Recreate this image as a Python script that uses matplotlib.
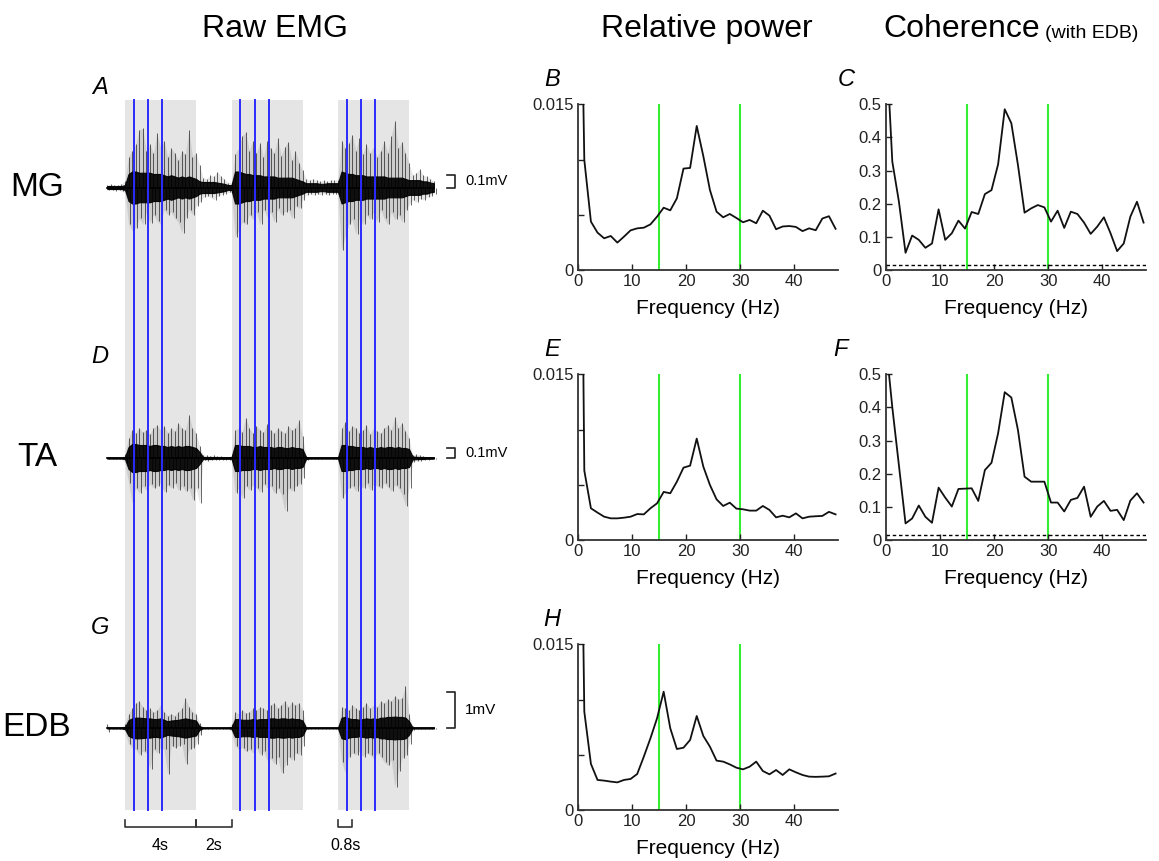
import numpy as np
import matplotlib
matplotlib.use('Agg')
import matplotlib.pyplot as plt

plt.rcParams['font.family'] = ['Liberation Sans', 'DejaVu Sans']

W, H = 1159, 861

# ---------------- spectra (relative power and coherence with EDB) ----------------
df = 1.2207
freq = np.arange(40) * df

pow_mg = [0.046, 0.00996, 0.00438, 0.00338, 0.00287, 0.00308, 0.00248, 0.00302, 0.00359, 0.00377,
          0.00383, 0.00413, 0.00483, 0.00564, 0.0054, 0.00649, 0.00918, 0.00924, 0.01304, 0.0103,
          0.00724, 0.00528, 0.00477, 0.00507, 0.00471, 0.00432, 0.00453, 0.00423, 0.00537, 0.00492,
          0.00369, 0.00394, 0.00398, 0.0039, 0.00352, 0.00377, 0.0036, 0.00466, 0.00487, 0.00373]
pow_ta = [0.069, 0.00628, 0.00287, 0.00248, 0.00211, 0.00196, 0.00196, 0.00202, 0.00211, 0.00235,
          0.00232, 0.00287, 0.00332, 0.00435, 0.00423, 0.00528, 0.00655, 0.00673, 0.00918, 0.00664,
          0.00498, 0.00368, 0.00308, 0.00338, 0.00284, 0.00278, 0.00266, 0.00266, 0.00308, 0.00272,
          0.00205, 0.0022, 0.00205, 0.00241, 0.00196, 0.00211, 0.00215, 0.00218, 0.00255, 0.00232]
pow_edb = [0.053, 0.0089, 0.00417, 0.00272, 0.00266, 0.00257, 0.0025, 0.00272, 0.00281, 0.00326,
           0.00483, 0.00649, 0.0083, 0.01071, 0.0074, 0.00552, 0.00564, 0.00634, 0.00851, 0.0067,
           0.00573, 0.00447, 0.00438, 0.00413, 0.00383, 0.00368, 0.00392, 0.00438, 0.00353, 0.00323,
           0.00362, 0.00317, 0.00368, 0.00341, 0.00317, 0.00302, 0.003, 0.00302, 0.00305, 0.0033]
coh_mg = [0.72, 0.327, 0.206, 0.052, 0.104, 0.091, 0.067, 0.080, 0.183, 0.091,
          0.111, 0.149, 0.125, 0.175, 0.169, 0.229, 0.241, 0.319, 0.485, 0.443,
          0.317, 0.173, 0.186, 0.196, 0.189, 0.146, 0.179, 0.127, 0.176, 0.169,
          0.143, 0.109, 0.131, 0.159, 0.111, 0.057, 0.080, 0.161, 0.206, 0.143]
coh_ta = [0.6, 0.40, 0.225, 0.050, 0.065, 0.104, 0.070, 0.052, 0.158, 0.128,
          0.101, 0.154, 0.155, 0.156, 0.118, 0.211, 0.233, 0.322, 0.446, 0.430,
          0.332, 0.191, 0.176, 0.176, 0.176, 0.113, 0.113, 0.086, 0.121, 0.127,
          0.161, 0.070, 0.101, 0.118, 0.088, 0.091, 0.060, 0.119, 0.141, 0.113]
coh_conf = 0.015
beta_band = [15, 30]

# ---------------- raw EMG (per 0.2 s bin: max, min and dense core, mV) ----------------
t_bins = -1.0 + 0.2 * np.arange(93)

mg_hi = ([0.02, 0.025, 0.02, 0.02, 0.03, 0.05]
         + [0.25, 0.30, 0.35, 0.47, 0.48, 0.30, 0.35, 0.28, 0.44, 0.33, 0.38, 0.25, 0.32, 0.28, 0.22, 0.30, 0.27, 0.47, 0.25, 0.28]
         + [0.18, 0.08, 0.07, 0.10, 0.09, 0.13, 0.09, 0.07, 0.04, 0.04]
         + [0.27, 0.32, 0.42, 0.45, 0.30, 0.38, 0.28, 0.36, 0.25, 0.38, 0.32, 0.28, 0.40, 0.26, 0.33, 0.37, 0.22, 0.30, 0.20, 0.14]
         + [0.07, 0.06, 0.07, 0.06, 0.05, 0.06, 0.05, 0.06, 0.06, 0.06]
         + [0.38, 0.32, 0.36, 0.43, 0.30, 0.40, 0.27, 0.35, 0.28, 0.33, 0.25, 0.30, 0.38, 0.28, 0.42, 0.54, 0.32, 0.37, 0.28, 0.20]
         + [0.10, 0.12, 0.15, 0.10, 0.09, 0.07, 0.05])
mg_lo = ([-0.02, -0.02, -0.025, -0.02, -0.03, -0.04]
         + [-0.30, -0.35, -0.33, -0.25, -0.30, -0.20, -0.29, -0.22, -0.27, -0.30, -0.18, -0.22, -0.20, -0.25, -0.28, -0.37, -0.25, -0.18, -0.22, -0.15]
         + [-0.12, -0.08, -0.07, -0.08, -0.10, -0.07, -0.06, -0.05, -0.04, -0.04]
         + [-0.40, -0.35, -0.28, -0.30, -0.22, -0.26, -0.20, -0.30, -0.18, -0.24, -0.20, -0.28, -0.17, -0.22, -0.20, -0.18, -0.25, -0.15, -0.17, -0.10]
         + [-0.06, -0.05, -0.06, -0.05, -0.06, -0.05, -0.06, -0.05, -0.05, -0.06]
         + [-0.51, -0.40, -0.30, -0.26, -0.38, -0.25, -0.30, -0.22, -0.26, -0.20, -0.28, -0.18, -0.25, -0.30, -0.20, -0.26, -0.22, -0.28, -0.18, -0.14]
         + [-0.10, -0.12, -0.09, -0.10, -0.08, -0.07, -0.05])
mg_core = ([0.012, 0.012, 0.012, 0.012, 0.012, 0.02]
           + [0.11, 0.13, 0.13, 0.12, 0.12, 0.12, 0.12, 0.11, 0.11, 0.11, 0.10, 0.09, 0.10, 0.09, 0.08, 0.09, 0.08, 0.09, 0.08, 0.07]
           + [0.05, 0.045, 0.045, 0.045, 0.045, 0.04, 0.035, 0.03, 0.02, 0.02]
           + [0.13, 0.13, 0.12, 0.11, 0.11, 0.10, 0.10, 0.10, 0.09, 0.09, 0.09, 0.09, 0.08, 0.08, 0.08, 0.08, 0.08, 0.07, 0.06, 0.05]
           + [0.035, 0.035, 0.035, 0.035, 0.03, 0.03, 0.035, 0.035, 0.035, 0.035]
           + [0.13, 0.12, 0.11, 0.11, 0.10, 0.10, 0.10, 0.09, 0.09, 0.09, 0.09, 0.09, 0.09, 0.08, 0.08, 0.08, 0.08, 0.08, 0.07, 0.06]
           + [0.06, 0.06, 0.06, 0.05, 0.05, 0.04, 0.035])

ta_hi = ([0.01] * 5 + [0.04]
         + [0.20, 0.28, 0.25, 0.30, 0.26, 0.28, 0.24, 0.30, 0.33, 0.28, 0.32, 0.25, 0.30, 0.27, 0.35, 0.30, 0.28, 0.43, 0.30, 0.25]
         + [0.12, 0.03, 0.03, 0.025, 0.03, 0.02, 0.02, 0.015, 0.015, 0.02]
         + [0.28, 0.30, 0.26, 0.40, 0.30, 0.25, 0.32, 0.28, 0.26, 0.34, 0.28, 0.25, 0.30, 0.27, 0.25, 0.32, 0.28, 0.30, 0.38, 0.22]
         + [0.02] + [0.01] * 9
         + [0.30, 0.36, 0.27, 0.32, 0.30, 0.25, 0.28, 0.33, 0.24, 0.30, 0.27, 0.25, 0.30, 0.33, 0.28, 0.41, 0.30, 0.35, 0.27, 0.20]
         + [0.03, 0.04, 0.03, 0.02, 0.015, 0.01, 0.01])
ta_lo = ([-0.01] * 5 + [-0.05]
         + [-0.25, -0.45, -0.30, -0.35, -0.28, -0.32, -0.26, -0.30, -0.28, -0.25, -0.34, -0.27, -0.30, -0.25, -0.32, -0.28, -0.33, -0.30, -0.42, -0.30]
         + [-0.45, -0.02, -0.03, -0.02, -0.02, -0.015, -0.015, -0.015, -0.015, -0.02]
         + [-0.35, -0.30, -0.40, -0.28, -0.32, -0.27, -0.30, -0.34, -0.26, -0.30, -0.28, -0.35, -0.30, -0.36, -0.53, -0.30, -0.33, -0.28, -0.26, -0.20]
         + [-0.02] + [-0.01] * 9
         + [-0.40, -0.35, -0.30, -0.28, -0.33, -0.27, -0.30, -0.25, -0.32, -0.26, -0.28, -0.30, -0.25, -0.29, -0.33, -0.27, -0.30, -0.36, -0.48, -0.30]
         + [-0.04, -0.03, -0.03, -0.02, -0.015, -0.01, -0.01])
ta_core = ([0.006] * 5 + [0.01]
           + [0.11, 0.14, 0.14, 0.13, 0.13, 0.13, 0.12, 0.13, 0.13, 0.12, 0.12, 0.11, 0.12, 0.11, 0.12, 0.11, 0.12, 0.12, 0.11, 0.10]
           + [0.06, 0.01, 0.01, 0.01, 0.008, 0.008, 0.008, 0.008, 0.008, 0.008]
           + [0.13, 0.13, 0.12, 0.12, 0.12, 0.11, 0.11, 0.12, 0.11, 0.11, 0.11, 0.10, 0.11, 0.11, 0.10, 0.10, 0.11, 0.10, 0.10, 0.09]
           + [0.01] + [0.006] * 9
           + [0.13, 0.13, 0.12, 0.12, 0.11, 0.11, 0.11, 0.10, 0.11, 0.10, 0.10, 0.11, 0.10, 0.11, 0.11, 0.10, 0.11, 0.10, 0.10, 0.09]
           + [0.015, 0.012, 0.01, 0.01, 0.008, 0.008, 0.006])

edb_hi = ([0.10, 0.02, 0.02, 0.02, 0.02, 0.12]
          + [0.40, 0.55, 0.70, 0.75, 0.60, 0.50, 0.55, 0.45, 0.50, 0.65, 0.45, 0.35, 0.40, 0.35, 0.45, 0.55, 0.84, 0.60, 0.45, 0.40]
          + [0.15, 0.03, 0.03, 0.025, 0.03, 0.02, 0.02, 0.03, 0.03, 0.10]
          + [0.45, 0.40, 0.50, 0.42, 0.45, 0.55, 0.50, 0.60, 0.55, 0.50, 0.65, 0.70, 0.55, 0.65, 0.75, 0.60, 0.72, 0.65, 0.70, 0.50]
          + [0.04] + [0.02] * 9
          + [0.60, 0.55, 0.50, 0.65, 0.55, 0.50, 0.60, 0.70, 0.55, 0.65, 0.60, 0.75, 0.70, 0.80, 0.75, 0.90, 0.80, 0.85, 1.17, 0.40]
          + [0.05, 0.04, 0.03, 0.03, 0.03, 0.02, 0.02])
edb_lo = ([-0.10, -0.02, -0.02, -0.02, -0.02, -0.10]
          + [-0.45, -0.55, -0.60, -0.75, -0.65, -0.70, -1.15, -0.60, -0.70, -0.55, -0.60, -1.30, -0.50, -0.55, -0.50, -0.45, -1.00, -0.60, -0.55, -0.45]
          + [-0.20, -0.03, -0.03, -0.025, -0.03, -0.02, -0.02, -0.03, -0.03, -0.10]
          + [-0.50, -0.60, -0.55, -0.65, -0.60, -0.70, -0.55, -0.75, -0.65, -0.90, -0.85, -1.00, -0.80, -1.26, -1.05, -0.80, -0.90, -0.70, -0.75, -0.50]
          + [-0.04] + [-0.02] * 9
          + [-0.95, -1.25, -0.80, -0.70, -0.75, -0.65, -0.80, -0.70, -0.75, -0.85, -0.70, -0.80, -0.95, -1.05, -0.90, -1.64, -1.20, -0.85, -0.75, -0.45]
          + [-0.05, -0.04, -0.03, -0.03, -0.03, -0.02, -0.02])
edb_core = ([0.015] * 5 + [0.03]
            + [0.22, 0.27, 0.29, 0.29, 0.28, 0.27, 0.27, 0.25, 0.25, 0.27, 0.23, 0.19, 0.21, 0.22, 0.23, 0.25, 0.27, 0.25, 0.23, 0.21]
            + [0.05] + [0.012] * 8 + [0.02]
            + [0.25, 0.25, 0.23, 0.23, 0.23, 0.25, 0.23, 0.25, 0.25, 0.25, 0.27, 0.27, 0.25, 0.27, 0.27, 0.25, 0.27, 0.25, 0.25, 0.21]
            + [0.015] + [0.012] * 9
            + [0.29, 0.31, 0.27, 0.25, 0.25, 0.23, 0.25, 0.27, 0.25, 0.27, 0.25, 0.29, 0.29, 0.31, 0.31, 0.32, 0.31, 0.31, 0.29, 0.19]
            + [0.015] * 7)

win_start = [0, 6, 12]        # s, start of each analysed 4 s window
win_len = 4
mark_offsets = [0.5, 1.3, 2.1]  # s, blue markers inside each window
emg_rows = [('MG', mg_hi, mg_lo, mg_core, 0.1, '0.1mV'),
            ('TA', ta_hi, ta_lo, ta_core, 0.1, '0.1mV'),
            ('EDB', edb_hi, edb_lo, edb_core, 1.0, '1mV')]

# ---------------- layout helpers (pixel positions in the 1159x861 frame) ----------------
def frac(x0, y0, x1, y1):
    return [x0 / W, 1 - y1 / H, (x1 - x0) / W, (y1 - y0) / H]

fig = plt.figure(figsize=(W / 100, H / 100), dpi=100)

# EMG column: x in seconds, y in pixel rows
PX_S = 17.75
T0 = 125.0
ax_emg = fig.add_axes(frac(80, 90, 540, 861))
ax_emg.set_xlim((80 - T0) / PX_S, (540 - T0) / PX_S)
ax_emg.set_ylim(861, 90)
ax_emg.axis('off')

def t_px(x):
    return (x - T0) / PX_S

base_px = [187.5, 458, 728]
gain = [123, 100, 35.7]          # px per mV
band_top, band_bot = 100, 810

for s in win_start:
    ax_emg.axvspan(s, s + win_len, ymin=(861 - band_bot) / 771, ymax=(861 - band_top) / 771,
                   color='#e5e5e5', lw=0, zorder=0)

half_bin = 0.1
for (name, hi, lo, core, amp, amp_lbl), b, g in zip(emg_rows, base_px, gain):
    hi = np.array(hi); lo = np.array(lo); core = np.array(core)
    # faint haze of the overlapping excursions, then the individual peaks
    ax_emg.fill_between(t_bins, b - g * hi, b - g * lo, color='k', lw=0, alpha=0.10, zorder=1)
    ax_emg.vlines(t_bins, b, b - g * hi, color='k', lw=0.7, alpha=0.6, zorder=1)
    ax_emg.vlines(t_bins + half_bin, b, b - g * lo, color='k', lw=0.7, alpha=0.6, zorder=1)
    ax_emg.fill_between(t_bins, b - g * core, b + g * core, color='k', lw=0.8, alpha=0.92, zorder=2)
    ax_emg.plot(t_bins, np.full_like(t_bins, b), color='k', lw=1.2, zorder=2)
    # amplitude bracket
    x0, x1 = t_px(447), t_px(455)
    ax_emg.plot([x0, x1, x1, x0], [b, b, b - g * amp, b - g * amp], color='#222222', lw=1.2)
    ax_emg.text(t_px(465), b - g * amp / 2, amp_lbl, fontsize=10.5 if amp < 1 else 11,
                ha='left', va='center')

for s in win_start:
    for off in mark_offsets:
        ax_emg.plot([s + off] * 2, [band_top, band_bot], color='#2a2aff', lw=1.4, zorder=3)

# time scale bars
bar_y, tick_h = 827, 7
def tbar(t0, t1):
    ax_emg.plot([t0, t0, t1, t1], [bar_y - tick_h, bar_y, bar_y, bar_y - tick_h],
                color='#333333', lw=1.2)

tbar(0, 4)
tbar(4, 6)
tbar(12, 12.8)
ax_emg.text(2.0, 845, '4s', fontsize=11.5, ha='center', va='center')
ax_emg.text(5.0, 845, '2s', fontsize=11.5, ha='center', va='center')
ax_emg.text(12.4, 845, '0.8s', fontsize=11.5, ha='center', va='center')

# ---------------- spectral panels ----------------
GREEN = '#33ee33'

def spec_axes(x0, y0, x1, y1):
    ax = fig.add_axes(frac(x0, y0, x1, y1))
    for side in ['top', 'right']:
        ax.spines[side].set_visible(False)
    for side in ['left', 'bottom']:
        ax.spines[side].set_linewidth(1.3)
        ax.spines[side].set_color('#333333')
    ax.tick_params(direction='in', length=4, width=1, labelsize=12, pad=3, colors='#222222')
    ax.set_xlim(0, 48)
    ax.set_xticks([0, 10, 20, 30, 40])
    ax.set_xlabel('Frequency (Hz)', fontsize=15, labelpad=7)
    for f in beta_band:
        ax.axvline(f, color=GREEN, lw=1.5, zorder=1)
    return ax

def power_panel(rect, values):
    ax = spec_axes(*rect)
    ax.plot(freq, values, color='#111111', lw=1.3, zorder=2)
    ax.set_ylim(0, 0.015)
    ax.set_yticks([0, 0.005, 0.01, 0.015])
    ax.set_yticklabels(['0', '', '', '0.015'])
    return ax

def coh_panel(rect, values):
    ax = spec_axes(*rect)
    ax.plot(freq, values, color='#111111', lw=1.3, zorder=2)
    ax.axhline(coh_conf, color='k', lw=1.0, ls=(0, (2.5, 2)), zorder=2)
    ax.set_ylim(0, 0.5)
    ax.set_yticks([0, 0.1, 0.2, 0.3, 0.4, 0.5])
    ax.set_yticklabels(['0', '0.1', '0.2', '0.3', '0.4', '0.5'])
    return ax

power_panel((577.7, 104.3, 837.7, 270), pow_mg)
coh_panel((885.7, 104.3, 1145.7, 270), coh_mg)
power_panel((577.7, 374.3, 837.7, 540), pow_ta)
coh_panel((885.7, 374.3, 1145.7, 540), coh_ta)
power_panel((577.7, 644.3, 837.7, 810), pow_edb)

# ---------------- text ----------------
def ftext(x, y, s, **kw):
    fig.text(x / W, 1 - y / H, s, **kw)

ftext(275, 29, 'Raw EMG', fontsize=23, ha='center', va='center')
ftext(707, 29, 'Relative power', fontsize=23, ha='center', va='center')
ftext(883, 29, 'Coherence', fontsize=23, ha='left', va='center')
ftext(1045, 33, '(with EDB)', fontsize=14, ha='left', va='center')

for (lbl, x, y) in [('A', 100, 88), ('B', 552, 80), ('C', 846, 80),
                    ('D', 100, 357), ('E', 552, 350), ('F', 840, 350),
                    ('G', 100, 628), ('H', 552, 619)]:
    ftext(x, y, lbl, fontsize=17, style='italic', ha='center', va='center')

for (name, *_), b in zip(emg_rows, base_px):
    ftext(37, b, name, fontsize=24, ha='center', va='center')

fig.savefig('out.png', dpi=100)
